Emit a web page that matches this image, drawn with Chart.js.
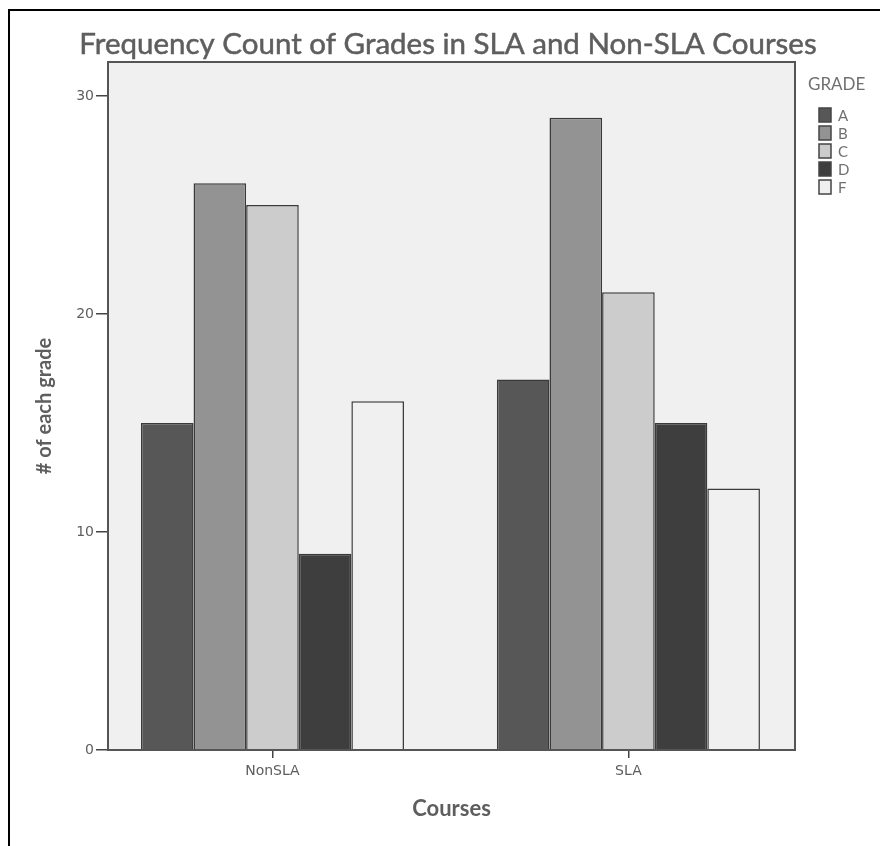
<!DOCTYPE html>
<html>
<head>
<meta charset="utf-8">
<script src="https://cdn.jsdelivr.net/npm/chart.js@4"></script>
<style>
  html, body { margin: 0; padding: 0; background: #fff; }
  canvas { display: block; }
</style>
</head>
<body>
<canvas id="gradeChart" width="880" height="846"></canvas>
<script>
// data
const courses = ['NonSLA', 'SLA'];
const grades = ['A', 'B', 'C', 'D', 'F'];
const gradeA = [15, 17];
const gradeB = [26, 29];
const gradeC = [25, 21];
const gradeD = [9, 15];
const gradeF = [16, 12];
const yTicks = [0, 10, 20, 30];
const yMax = 31.56;

const counts = [gradeA, gradeB, gradeC, gradeD, gradeF];
const gradeColors = ['#575757', '#939393', '#cccccc', '#3e3e3e', '#f0f0f0'];
const textGray = '#5e5e5e';

const datasets = grades.map((g, i) => ({
  label: g,
  data: counts[i].map((v, j) => ({ x: j, y: v })),
  backgroundColor: gradeColors[i],
  borderColor: '#3a3a3a',
  borderWidth: 1.5,
  categoryPercentage: 0.739,
  barPercentage: 1.0
}));

// frame, title and legend
const framePlugin = {
  id: 'frame',
  beforeDraw(chart) {
    const { ctx, chartArea: a, width, height } = chart;
    ctx.save();
    ctx.fillStyle = '#fff';
    ctx.fillRect(0, 0, width, height);
    ctx.strokeStyle = '#000';
    ctx.lineWidth = 2;
    ctx.beginPath();
    ctx.moveTo(9, height);
    ctx.lineTo(9, 10);
    ctx.lineTo(width, 10);
    ctx.stroke();
    ctx.fillStyle = '#f0f0f0';
    ctx.fillRect(a.left, a.top, a.right - a.left, a.bottom - a.top);
    ctx.restore();
  },
  afterDatasetsDraw(chart) {
    const { ctx, chartArea: a } = chart;
    ctx.save();
    ctx.strokeStyle = '#555';
    ctx.lineWidth = 2;
    ctx.strokeRect(a.left, a.top, a.right - a.left, a.bottom - a.top);
    ctx.restore();
  },
  afterDraw(chart) {
    const { ctx } = chart;
    ctx.save();
    ctx.fillStyle = textGray;
    ctx.strokeStyle = textGray;
    ctx.lineWidth = 0.5;
    ctx.textBaseline = 'middle';
    ctx.textAlign = 'center';
    ctx.font = '29.5px Lato';
    const title = 'Frequency Count of Grades in SLA and Non-SLA Courses';
    ctx.fillText(title, 448, 44);
    ctx.strokeText(title, 448, 44);

    ctx.textAlign = 'left';
    ctx.font = '17px Lato';
    ctx.fillStyle = '#707070';
    ctx.fillText('GRADE', 808, 85);
    ctx.font = '15px Lato';
    chart.data.datasets.forEach((ds, i) => {
      const y = 108 + i * 18;
      ctx.fillStyle = ds.backgroundColor;
      ctx.fillRect(819, y, 12, 14);
      ctx.strokeStyle = '#444';
      ctx.lineWidth = 1.5;
      ctx.strokeRect(819, y, 12, 14);
      ctx.fillStyle = '#707070';
      ctx.fillText(ds.label, 838, y + 8);
    });
    ctx.restore();
  }
};

const config = {
  type: 'bar',
  data: { datasets: datasets },
  options: {
    responsive: false,
    animation: false,
    layout: { padding: { top: 62, right: 85, bottom: 0, left: 0 } },
    plugins: {
      legend: { display: false },
      tooltip: { enabled: false }
    },
    scales: {
      x: {
        type: 'linear',
        min: -0.462,
        max: 1.468,
        offset: false,
        afterBuildTicks: s => { s.ticks = courses.map((c, i) => ({ value: i })); },
        afterFit: s => { s.height = 96; },
        border: { display: false },
        grid: { offset: false, drawOnChartArea: false, tickLength: 8, tickColor: '#444', tickWidth: 1.5, lineWidth: 1.5 },
        ticks: {
          callback: v => courses[v],
          padding: 5,
          maxRotation: 0,
          color: textGray,
          font: { family: 'DejaVu Sans', size: 14 }
        },
        title: {
          display: true,
          text: 'Courses',
          color: textGray,
          padding: { bottom: 24 },
          font: { family: 'Lato', size: 22, weight: 'bold' }
        }
      },
      y: {
        min: 0,
        max: yMax,
        afterBuildTicks: s => { s.ticks = yTicks.map(v => ({ value: v })); },
        afterFit: s => { s.width = 108; },
        border: { display: false },
        grid: { drawOnChartArea: false, tickLength: 12, tickColor: '#444', tickWidth: 1.5, lineWidth: 1.5 },
        ticks: {
          padding: 2,
          color: textGray,
          font: { family: 'DejaVu Sans', size: 14 }
        },
        title: {
          display: true,
          text: '# of each grade',
          color: textGray,
          padding: { top: 33 },
          font: { family: 'Lato', size: 20, weight: 'bold' }
        }
      }
    }
  },
  plugins: [framePlugin]
};

const gradeChart = new Chart(document.getElementById('gradeChart'), config);
</script>
</body>
</html>
